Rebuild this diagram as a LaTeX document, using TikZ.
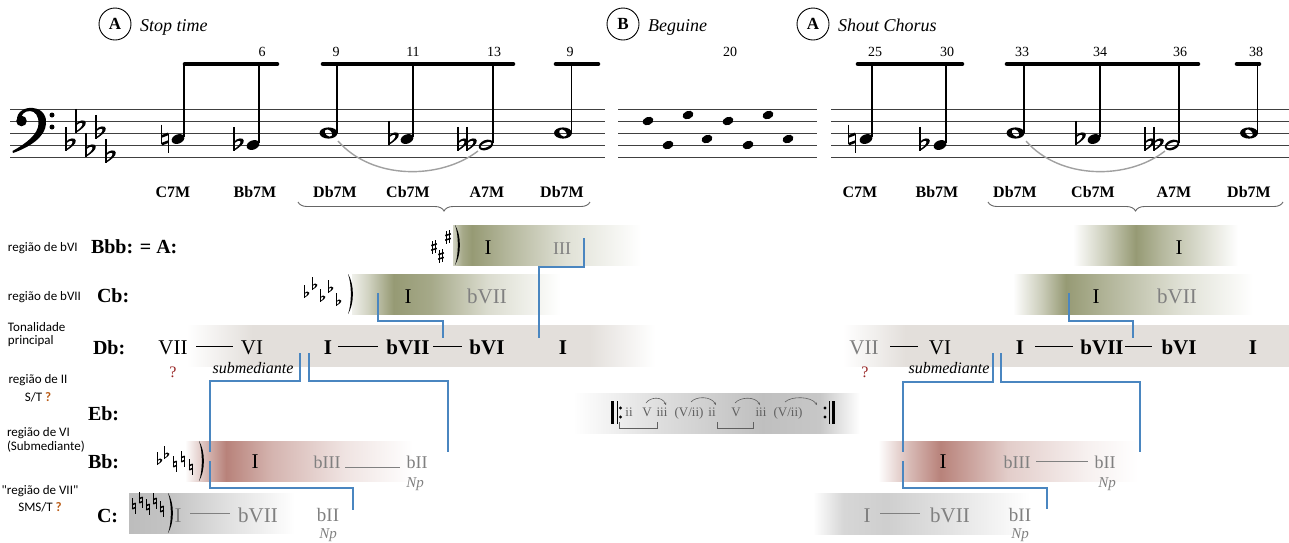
\documentclass[tikz,border=0pt]{standalone}
\usepackage{fontspec}
\setmainfont{Liberation Serif}
\newfontfamily\labfont{Carlito}
\usetikzlibrary{decorations.pathreplacing,arrows.meta}
\definecolor{olv}{RGB}{150,154,116}
\definecolor{rse}{RGB}{184,130,122}
\definecolor{wg}{RGB}{227,223,219}
\definecolor{bl}{RGB}{74,134,192}
\definecolor{txg}{RGB}{128,128,128}
\definecolor{dkg}{RGB}{95,95,95}
\definecolor{qred}{RGB}{150,35,35}
\definecolor{qorg}{RGB}{185,90,20}
\definecolor{slc}{RGB}{160,160,160}
\pgfdeclarehorizontalshading{bbbL}{100bp}{color(0bp)=(olv!45); color(25bp)=(olv!45); color(27.5bp)=(olv!85); color(30bp)=(olv); color(40bp)=(olv!70); color(55bp)=(olv!30); color(75bp)=(white); color(100bp)=(white)}
\pgfdeclarehorizontalshading{cbL}{100bp}{color(0bp)=(olv!15); color(25bp)=(olv!15); color(29bp)=(olv!45); color(35bp)=(olv); color(44bp)=(olv!85); color(57.5bp)=(olv!35); color(75bp)=(white); color(100bp)=(white)}
\pgfdeclarehorizontalshading{dbL}{100bp}{color(0bp)=(white); color(25bp)=(white); color(32bp)=(wg); color(68bp)=(wg); color(75bp)=(white); color(100bp)=(white)}
\pgfdeclarehorizontalshading{ebM}{100bp}{color(0bp)=(white); color(25bp)=(white); color(40bp)=(black!13); color(58bp)=(black!25); color(68bp)=(black!22); color(75bp)=(white); color(100bp)=(white)}
\pgfdeclarehorizontalshading{bbL}{100bp}{color(0bp)=(white); color(25bp)=(white); color(30bp)=(rse!60); color(34bp)=(rse); color(44bp)=(rse!60); color(60bp)=(rse!22); color(75bp)=(white); color(100bp)=(white)}
\pgfdeclarehorizontalshading{cL}{100bp}{color(0bp)=(black!26); color(25bp)=(black!26); color(38bp)=(black!23); color(55bp)=(black!12); color(75bp)=(white); color(100bp)=(white)}
\pgfdeclarehorizontalshading{bbbR}{100bp}{color(0bp)=(white); color(25bp)=(white); color(35bp)=(olv!50); color(44bp)=(olv); color(52bp)=(olv!70); color(75bp)=(white); color(100bp)=(white)}
\pgfdeclarehorizontalshading{cbR}{100bp}{color(0bp)=(white); color(25bp)=(white); color(31bp)=(olv!50); color(36bp)=(olv); color(44bp)=(olv!75); color(60bp)=(olv!30); color(75bp)=(white); color(100bp)=(white)}
\pgfdeclarehorizontalshading{dbR}{100bp}{color(0bp)=(white); color(25bp)=(white); color(32bp)=(wg); color(75bp)=(wg); color(100bp)=(wg)}
\pgfdeclarehorizontalshading{bbR}{100bp}{color(0bp)=(white); color(25bp)=(white); color(31bp)=(rse!55); color(37bp)=(rse); color(50bp)=(rse!40); color(65bp)=(rse!12); color(75bp)=(white); color(100bp)=(white)}
\pgfdeclarehorizontalshading{cR}{100bp}{color(0bp)=(white); color(25bp)=(white); color(32bp)=(black!16); color(42bp)=(black!19); color(55bp)=(black!12); color(75bp)=(white); color(100bp)=(white)}
\tikzset{
 nm/.style={font=\fontsize{21}{21}\selectfont, anchor=base},
 nmb/.style={font=\fontsize{21}{21}\selectfont\bfseries, anchor=base},
 nmg/.style={nm, text=txg},
 nms/.style={font=\fontsize{18}{18}\selectfont, anchor=base, text=txg},
 keyl/.style={font=\fontsize{20}{20}\selectfont\bfseries, anchor=base west},
 chordl/.style={font=\fontsize{16}{16}\selectfont\bfseries, anchor=base},
 barno/.style={font=\fontsize{14}{14}\selectfont, anchor=base},
 itl/.style={font=\fontsize{16}{16}\selectfont\itshape, anchor=base},
 npl/.style={font=\fontsize{15}{15}\selectfont\itshape, anchor=base, text=txg},
 qm/.style={font=\fontsize{16}{16}\selectfont, anchor=base, text=qred},
 hdr/.style={font=\fontsize{18}{18}\selectfont\itshape, anchor=base west},
 circ/.style={circle, draw, line width=0.9, minimum size=32pt, font=\fontsize{17}{17}\selectfont\bfseries},
 labf/.style={font=\labfont\fontsize{13}{14}\selectfont},
 stl/.style={line width=1, draw=black!75},
 stemln/.style={line width=1.1},
 beamln/.style={line width=4.6, line cap=round},
 bluel/.style={draw=bl, line width=1.6},
 numline/.style={line width=0.8},
 numlineg/.style={line width=0.8, draw=txg},
 ebt/.style={font=\fontsize{13}{13}\selectfont, anchor=base, text=dkg},
 ebarc/.style={draw=dkg, line width=0.6, -{Stealth[length=2.6pt,width=2.6pt]}},
 acc stem/.style={line width=0.9},
 acc bar/.style={line width=2.2},
 small acc/.style={scale=0.7, acc stem/.style={line width=0.7}, acc bar/.style={line width=1.5}},
 big acc/.style={scale=1.3, acc stem/.style={line width=1.1}, acc bar/.style={line width=2.6}},
 flat/.pic={
  \draw[acc stem] (0,-14) -- (0,4.5);
  \fill (0,4.5) .. controls (4,2) and (8,-1) .. (7.5,-3.5) .. controls (7,-6) and (2.5,-5.5) .. (0,-2.5) -- (0,-0.8) .. controls (2,-3.5) and (4.8,-3.8) .. (5,-2.5) .. controls (5.2,-0.8) and (2.5,1.8) .. (0,3.2) -- cycle;
 },
 nat/.pic={
  \draw[acc stem] (-2.6,-11) -- (-2.6,4.2);
  \draw[acc stem] (2.6,-4.2) -- (2.6,11);
  \draw[acc bar] (-2.6,-2) -- (2.6,-4);
  \draw[acc bar] (-2.6,4) -- (2.6,2);
 },
 sharp/.pic={
  \draw[acc stem] (-1.8,-8) -- (-1.8,9.5);
  \draw[acc stem] (1.8,-9.5) -- (1.8,8);
  \draw[acc bar] (-4,-2) -- (4,-4.5);
  \draw[acc bar] (-4,4.5) -- (4,2);
 },
 rparen/.pic={\fill (0,-20) .. controls (6.5,-10) and (6.5,10) .. (0,20) .. controls (3.8,10) and (3.8,-10) .. (0,-20) -- cycle;},
 qnote/.pic={\fill (0,0) ellipse [x radius=6.6, y radius=4.6, rotate=22];},
 hnote/.pic={\fill[even odd rule] (0,0) ellipse [x radius=7.6, y radius=4.9, rotate=22] (0,0) ellipse [x radius=6, y radius=2.4, rotate=22];},
 wnote/.pic={\fill[even odd rule] (0,0) ellipse [x radius=9, y radius=5.6] (0,0) ellipse [x radius=4.4, y radius=3, rotate=-40];},
 bnote/.pic={\fill (0,0) ellipse [x radius=5.6, y radius=4, rotate=22];}
}
\begin{document}
\begin{tikzpicture}[x=1pt,y=-1pt,every node/.style={inner sep=0pt,outer sep=0pt}]
\useasboundingbox (0,0) rectangle (1289,542);

% ---------- bands ----------
\shade[shading=bbbL] (453,225) rectangle (641,265);
\shade[shading=cbL] (352,274) rectangle (560,314);
\shade[shading=dbL] (187,325) rectangle (655,366);
\shade[shading=ebM] (573,393) rectangle (860,433);
\shade[shading=bbL] (185,441) rectangle (413,481);
\shade[shading=cL] (129,493) rectangle (295,533);
\shade[shading=bbbR] (1073,225) rectangle (1238,265);
\shade[shading=cbR] (1013,274) rectangle (1253,314);
\shade[shading=dbR] (843,325) rectangle (1289,366);
\shade[shading=bbR] (878,441) rectangle (1138,481);
\shade[shading=cR] (813,493) rectangle (1030,534);

% ---------- header ----------
\node[circ] (cA1) at (115,24) {A};
\node[hdr] (hA1) at (140,31) {Stop time};
\node[circ] (cB) at (623,24) {B};
\node[hdr] (hB) at (648,31) {Beguine};
\node[circ] (cA2) at (813,24) {A};
\node[hdr] (hA2) at (838,31) {Shout Chorus};

% ---------- staves ----------
\foreach \yy in {109,121,133,145,157} {
  \draw[stl] (10,\yy) -- (605,\yy);
  \draw[stl] (618,\yy) -- (817,\yy);
  \draw[stl] (831,\yy) -- (1289,\yy);
}
% bass clef
\fill (17,121) .. controls (16,111) and (26,107) .. (33,108) .. controls (43,109) and (47,117) .. (46,124) .. controls (45,137) and (30,147) .. (13,153) -- (12.5,151) .. controls (27,143) and (38,134) .. (38.5,124) .. controls (39,116) and (35,111) .. (30,111) .. controls (24,111) and (21,115) .. (21,119) -- cycle;
\fill (21.5,121) circle (5.3);
\fill (52,115) circle (2.5);
\fill (52,127) circle (2.5);
% key signature
\pic[big acc] at (66,145) {flat};
\pic[big acc] at (76,127) {flat};
\pic[big acc] at (86,151) {flat};
\pic[big acc] at (96,133) {flat};
\pic[big acc] at (106,157) {flat};

% staff 1 notes
\pic[big acc] at (165,139) {nat};  \pic at (178,139) {qnote};
\pic[big acc] at (234,145) {flat}; \pic at (253,145) {qnote};
\pic at (328.5,133) {wnote};
\pic[big acc] at (389,139) {flat}; \pic at (407,139) {qnote};
\pic[big acc] at (458,145) {flat}; \pic[big acc] at (467,145) {flat}; \pic at (486,145) {hnote};
\pic at (563,133) {wnote};
\draw[stemln] (184,137) -- (184,64);
\draw[stemln] (259,143) -- (259,64);
\draw[stemln] (337,133) -- (337,64);
\draw[stemln] (413,137) -- (413,64);
\draw[stemln] (493,143) -- (493,64);
\draw[stemln] (571.5,133) -- (571.5,64);
\draw[beamln] (185,64) -- (277,64);
\draw[beamln] (323,64) -- (513,64);
\draw[beamln] (556,64) -- (598,64);
\draw[slc, line width=1.4] (338,141) .. controls (372,180) and (440,180) .. (478,151);

% staff 2 notes
\pic at (648,121) {bnote}; \pic at (668,145) {bnote};
\pic at (688,115) {bnote}; \pic at (707,139) {bnote};
\pic at (728,121) {bnote}; \pic at (748,145) {bnote};
\pic at (768,115) {bnote}; \pic at (788,139) {bnote};

% staff 3 notes
\pic[big acc] at (852,139) {nat};  \pic at (866,139) {qnote};
\pic[big acc] at (920,145) {flat}; \pic at (940,145) {qnote};
\pic at (1015.5,133) {wnote};
\pic[big acc] at (1076,139) {flat}; \pic at (1094,139) {qnote};
\pic[big acc] at (1145,145) {flat}; \pic[big acc] at (1154,145) {flat}; \pic at (1172,145) {hnote};
\pic at (1249,133) {wnote};
\draw[stemln] (872,137) -- (872,64);
\draw[stemln] (946,143) -- (946,64);
\draw[stemln] (1024,133) -- (1024,64);
\draw[stemln] (1100,137) -- (1100,64);
\draw[stemln] (1179,143) -- (1179,64);
\draw[stemln] (1257.5,133) -- (1257.5,64);
\draw[beamln] (858,64) -- (962,64);
\draw[beamln] (1007,64) -- (1198,64);
\draw[beamln] (1237,64) -- (1259,64);
\draw[slc, line width=1.4] (1026,141) .. controls (1060,180) and (1128,180) .. (1165,151);

% bar numbers
\node[barno] (n6) at (262,56) {6};
\node[barno] (n9a) at (336,56) {9};
\node[barno] (n11) at (413,56) {11};
\node[barno] (n13) at (494,56) {13};
\node[barno] (n9b) at (570,56) {9};
\node[barno] (n20) at (730,56) {20};
\node[barno] (n25) at (875,56) {25};
\node[barno] (n30) at (947,56) {30};
\node[barno] (n33) at (1022,56) {33};
\node[barno] (n34) at (1100,56) {34};
\node[barno] (n36) at (1180,56) {36};
\node[barno] (n38) at (1256,56) {38};

% chord labels
\node[chordl] (c1) at (173,197) {C7M};
\node[chordl] (c2) at (255,197) {Bb7M};
\node[chordl] (c3) at (335,197) {Db7M};
\node[chordl] (c4) at (408,197) {Cb7M};
\node[chordl] (c5) at (487,197) {A7M};
\node[chordl] (c6) at (562,197) {Db7M};
\node[chordl] (d1) at (860,197) {C7M};
\node[chordl] (d2) at (937,197) {Bb7M};
\node[chordl] (d3) at (1015,197) {Db7M};
\node[chordl] (d4) at (1093,197) {Cb7M};
\node[chordl] (d5) at (1174,197) {A7M};
\node[chordl] (d6) at (1249,197) {Db7M};
\coordinate (br1a) at (298,202); \coordinate (br1b) at (590,202);
\coordinate (br2a) at (988,202); \coordinate (br2b) at (1283,202);
\draw[decorate, decoration={brace, amplitude=9pt, mirror}, draw=black!60, line width=0.9] (br1a) -- (br1b);
\draw[decorate, decoration={brace, amplitude=9pt, mirror}, draw=black!60, line width=0.9] (br2a) -- (br2b);

% ---------- left labels ----------
\node[labf, anchor=base west] (lb1) at (8,251) {região de bVI};
\node[labf, anchor=base west] (lb2) at (8,300) {região de bVII};
\node[font=\labfont\fontsize{13}{12.5}\selectfont, anchor=base west, align=left] (lb3) at (8,344) {Tonalidade\\principal};
\node[font=\labfont\fontsize{13}{18}\selectfont, anchor=base, align=center] (lb4) at (38,401) {região de II\\S/T \textcolor{qorg}{\bfseries ?}};
\node[font=\labfont\fontsize{13}{14}\selectfont, anchor=base west, align=left] (lb5) at (7,450) {região de VI\\(Submediante)};
\node[font=\labfont\fontsize{13}{17}\selectfont, anchor=base, align=center] (lb6) at (40,511) {"região de VII"\\SMS/T \textcolor{qorg}{\bfseries ?}};

\node[keyl] (k1) at (91,253) {Bbb: = A:};
\node[keyl] (k2) at (97,302) {Cb:};
\node[keyl] (k3) at (93,354) {Db:};
\node[keyl] (k4) at (88,420) {Eb:};
\node[keyl] (k5) at (88,468) {Bb:};
\node[keyl] (k6) at (97,522) {C:};

% ---------- region key signatures ----------
\pic[small acc] at (434,247) {sharp};
\pic[small acc] at (441,256) {sharp};
\pic[small acc] at (448,237) {sharp};
\pic at (455,245) {rparen};
\pic[small acc] at (304,295) {flat};
\pic[small acc] at (312,287) {flat};
\pic[small acc] at (320,299) {flat};
\pic[small acc] at (328,290) {flat};
\pic[small acc] at (336,303) {flat};
\pic at (348,294) {rparen};
\pic[small acc] at (157,462) {flat};
\pic[small acc] at (164,456) {flat};
\pic[small acc] at (175,464) {nat};
\pic[small acc] at (183,459) {nat};
\pic[small acc] at (191,467) {nat};
\pic at (199,461) {rparen};
\pic[small acc] at (134,506) {nat};
\pic[small acc] at (141,500) {nat};
\pic[small acc] at (148,507) {nat};
\pic[small acc] at (155,501) {nat};
\pic[small acc] at (162,509) {nat};
\pic at (168,513) {rparen};

% ---------- left rows ----------
\node[nm] (lbbI) at (488,254) {I};
\node[nms] (lbbIII) at (562,254) {III};
\node[nm] (lcbI) at (408,303) {I};
\node[nmg] (lcbVII) at (487,303) {bVII};
\node[nm] (ldVII) at (173,354) {VII};
\node[nm] (ldVI) at (252,354) {VI};
\node[nmb] (ldI) at (328,354) {I};
\node[nmb] (ldbVII) at (408,354) {bVII};
\node[nmb] (ldbVI) at (487,354) {bVI};
\node[nmb] (ldI2) at (563,354) {I};
\draw[numline] (196,346) -- (233,346);
\draw[numline] (338,346) -- (378,346);
\draw[numline] (433,346) -- (462,346);
\node[qm] (lq) at (173,377) {?};
\node[itl] (lsub) at (253,373) {submediante};
\node[nm] (lbI) at (255,468) {I};
\node[nms] (lbbIII2) at (327,468) {bIII};
\draw[numlineg] (345,467) -- (400,467);
\node[nms] (lbbII) at (417,468) {bII};
\node[npl] (lbNp) at (415,487) {Np};
\node[nmg] (lcI) at (178,522) {I};
\draw[numlineg] (190,513) -- (230,513);
\node[nmg] (lcbVII2) at (258,522) {bVII};
\node[font=\fontsize{19}{19}\selectfont, anchor=base, text=txg] (lcbII) at (328,521) {bII};
\node[npl] (lcNp) at (328,538) {Np};

% ---------- Eb row ----------
\draw[line width=3.2] (612.5,401) -- (612.5,424);
\draw[line width=1] (617,401) -- (617,424);
\fill (620.5,408) circle (1.6); \fill (620.5,417) circle (1.6);
\fill (825,408) circle (1.6); \fill (825,417) circle (1.6);
\draw[line width=1] (829,401) -- (829,424);
\draw[line width=3.2] (833.5,401) -- (833.5,424);
\node[ebt] (e1) at (629,416) {ii};
\node[ebt] (e2) at (647,416) {V};
\node[ebt] (e3) at (662,416) {iii};
\node[ebt] (e4) at (689,416) {(V/ii)};
\node[ebt] (e5) at (712,416) {ii};
\node[ebt] (e6) at (736,416) {V};
\node[ebt] (e7) at (761,416) {iii};
\node[ebt] (e8) at (788,416) {(V/ii)};
\draw[draw=dkg, line width=0.6] (619,422) |- (657,428) -- (657,422);
\draw[draw=dkg, line width=0.6] (717,422) |- (753,428) -- (753,422);
\coordinate (a1s) at (646,403); \coordinate (a1e) at (666,405);
\coordinate (a2s) at (691,402); \coordinate (a2e) at (716,405);
\coordinate (a3s) at (735,403); \coordinate (a3e) at (760,405);
\coordinate (a4s) at (785,402); \coordinate (a4e) at (817,405);
\draw[ebarc] (a1s) .. controls (650,397) and (662,396) .. (a1e);
\draw[ebarc] (a2s) .. controls (696,396) and (711,396) .. (a2e);
\draw[ebarc] (a3s) .. controls (740,397) and (755,396) .. (a3e);
\draw[ebarc] (a4s) .. controls (791,396) and (811,396) .. (a4e);

% ---------- right rows ----------
\node[nm] (rbbI) at (1179,254) {I};
\node[nm] (rcbI) at (1096,303) {I};
\node[nmg] (rcbVII) at (1177,303) {bVII};
\node[nmg] (rdVII) at (864,354) {VII};
\draw[numline] (890,346) -- (918,346);
\node[nm] (rdVI) at (940,354) {VI};
\node[nmb] (rdI) at (1020,354) {I};
\draw[numline] (1035,346) -- (1073,346);
\node[nmb] (rdbVII) at (1102,354) {bVII};
\draw[numline] (1125,346) -- (1152,346);
\node[nmb] (rdbVI) at (1179,354) {bVI};
\node[nmb] (rdI2) at (1253,354) {I};
\node[qm] (rq) at (865,377) {?};
\node[itl] (rsub) at (949,373) {submediante};
\node[nm] (rbI) at (943,468) {I};
\node[nms] (rbbIII) at (1017,468) {bIII};
\draw[numlineg] (1036,461) -- (1088,461);
\node[nms] (rbbII) at (1105,468) {bII};
\node[npl] (rbNp) at (1107,487) {Np};
\node[nmg] (rcI) at (867,522) {I};
\draw[numlineg] (880,513) -- (920,513);
\node[nmg] (rcbVII2) at (950,522) {bVII};
\node[font=\fontsize{19}{19}\selectfont, anchor=base, text=txg] (rcbII) at (1020,521) {bII};
\node[npl] (rcNp) at (1020,538) {Np};

% ---------- blue connectors ----------
\coordinate (L1s) at (378,293); \coordinate (L1e) at (443,338);
\coordinate (L2s) at (584,238); \coordinate (L2e) at (539,338);
\coordinate (L3s) at (300,353); \coordinate (L3m) at (210,452);
\coordinate (L3n) at (210,461); \coordinate (L3e) at (353,510);
\coordinate (L4s) at (309,353); \coordinate (L4e) at (448,452);
\draw[bluel] (L1s) |- (410,321) -| (L1e);
\draw[bluel] (L2s) |- (560,267) -| (L2e);
\draw[bluel] (L3s) |- (250,381) -| (L3m);
\draw[bluel] (L3n) |- (300,488) -| (L3e);
\draw[bluel] (L4s) |- (380,381) -| (L4e);
\coordinate (R1s) at (1069,293); \coordinate (R1e) at (1133,338);
\coordinate (R2s) at (993,353); \coordinate (R2m) at (903,452);
\coordinate (R2n) at (903,461); \coordinate (R2e) at (1047,509);
\coordinate (R3s) at (1001,353); \coordinate (R3e) at (1140,452);
\draw[bluel] (R1s) |- (1100,321) -| (R1e);
\draw[bluel] (R2s) |- (950,382) -| (R2m);
\draw[bluel] (R2n) |- (980,488) -| (R2e);
\draw[bluel] (R3s) |- (1070,382) -| (R3e);
\end{tikzpicture}
\end{document}
